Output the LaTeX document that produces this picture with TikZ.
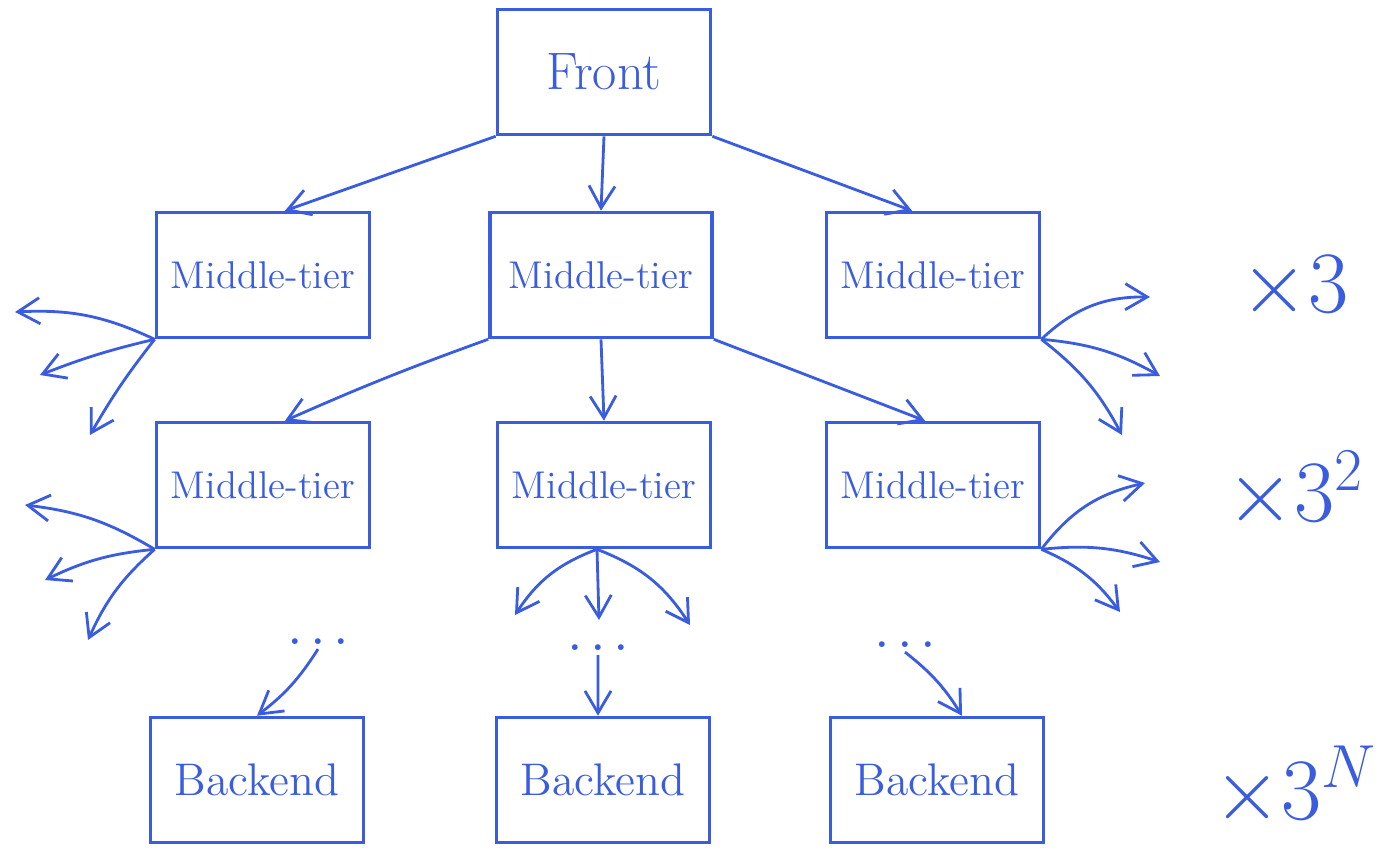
\documentclass[tikz,border=0pt]{standalone}
\usetikzlibrary{arrows.meta}
\definecolor{penblue}{RGB}{58,92,222}
\begin{document}
\begin{tikzpicture}[x=0.01cm, y=-0.01cm,
  tier/.style={draw=penblue, line width=1pt, minimum width=2.13cm, minimum height=1.25cm, text=penblue, font=\fontsize{11}{13}\selectfont},
  link/.style={draw=penblue, line width=0.8pt, -{Straight Barb[length=2.2mm, width=2.6mm]}},
  count/.style={text=penblue, font=\fontsize{24}{28}\selectfont},
  ellip/.style={text=penblue, inner sep=1pt}]
\useasboundingbox (0,0) rectangle (1378,857);
\node[tier, font=\fontsize{15}{17}\selectfont] (front) at (604,72){Front};
\node[tier] (mid1a) at (263,275){Middle-tier};
\node[tier, minimum width=2.22cm] (mid1b) at (601,275){Middle-tier};
\node[tier] (mid1c) at (933,275){Middle-tier};
\draw[link] (front.south west) -- ([xshift=0.22cm]mid1a.north);
\draw[link] (front.south) -- (mid1b.north);
\draw[link] (front.south east) -- ([xshift=-0.21cm]mid1c.north);
\node[tier] (mid2a) at (263,485){Middle-tier};
\node[tier] (mid2b) at (604,485){Middle-tier};
\node[tier] (mid2c) at (933,485){Middle-tier};
\draw[link] (mid1b.south west) to[bend right=2] ([xshift=0.22cm]mid2a.north);
\draw[link] (mid1b.south) -- (mid2b.north);
\draw[link] (mid1b.south east) -- ([xshift=-0.08cm]mid2c.north);
% fan-out towards the boxes that are not drawn
\coordinate (s1a1) at (15,312);
\coordinate (s1a2) at (40,375);
\coordinate (s1a3) at (90,435);
\draw[link] (mid1a.south west) to[bend right=14] (s1a1);
\draw[link] (mid1a.south west) to[bend right=4] (s1a2);
\draw[link] (mid1a.south west) to[bend right=4] (s1a3);
\coordinate (s1c1) at (1150,297);
\coordinate (s1c2) at (1160,376);
\coordinate (s1c3) at (1122,435);
\draw[link] (mid1c.south east) to[bend left=22] (s1c1);
\draw[link] (mid1c.south east) to[bend left=12] (s1c2);
\draw[link] (mid1c.south east) to[bend left=12] (s1c3);
\coordinate (s2a1) at (25,505);
\coordinate (s2a2) at (45,580);
\coordinate (s2a3) at (88,640);
\draw[link] (mid2a.south west) to[bend right=12] (s2a1);
\draw[link] (mid2a.south west) to[bend right=10] (s2a2);
\draw[link] (mid2a.south west) to[bend right=12] (s2a3);
\coordinate (s2b0) at ([xshift=-0.07cm]mid2b.south);
\coordinate (s2b1) at (515,615);
\coordinate (s2b2) at (599,620);
\coordinate (s2b3) at (690,625);
\draw[link] (s2b0) to[bend right=18] (s2b1);
\draw[link] (s2b0) -- (s2b2);
\draw[link] (s2b0) to[bend left=18] (s2b3);
\coordinate (s2c1) at (1145,483);
\coordinate (s2c2) at (1160,562);
\coordinate (s2c3) at (1120,612);
\draw[link] (mid2c.south east) to[bend left=20] (s2c1);
\draw[link] (mid2c.south east) to[bend left=12] (s2c2);
\draw[link] (mid2c.south east) to[bend left=15] (s2c3);
% last level
\node[ellip] (dots1) at (318,642){\fontsize{20}{22}\selectfont .\kern0.08em.\kern0.08em.};
\node[ellip] (dots2) at (598,648){\fontsize{20}{22}\selectfont .\kern0.08em.\kern0.08em.};
\node[ellip] (dots3) at (905,645){\fontsize{20}{22}\selectfont .\kern0.08em.\kern0.08em.};
\node[tier, font=\fontsize{13}{15}\selectfont] (back1) at (257,780){Backend};
\node[tier, font=\fontsize{13}{15}\selectfont] (back2) at (603,780){Backend};
\node[tier, font=\fontsize{13}{15}\selectfont] (back3) at (937,780){Backend};
\draw[link] (dots1.south) to[bend left=10] (back1.north);
\draw[link] (dots2.south) -- ([xshift=-0.05cm]back2.north);
\draw[link] (dots3.south) to[bend left=10] ([xshift=0.25cm]back3.north);
\node[count] (cnt1) at (1295,288){$\times 3$};
\node[count] (cnt2) at (1295,490){$\times 3^2$};
\node[count] (cnt3) at (1295,786){$\times 3^N$};
\end{tikzpicture}
\end{document}
